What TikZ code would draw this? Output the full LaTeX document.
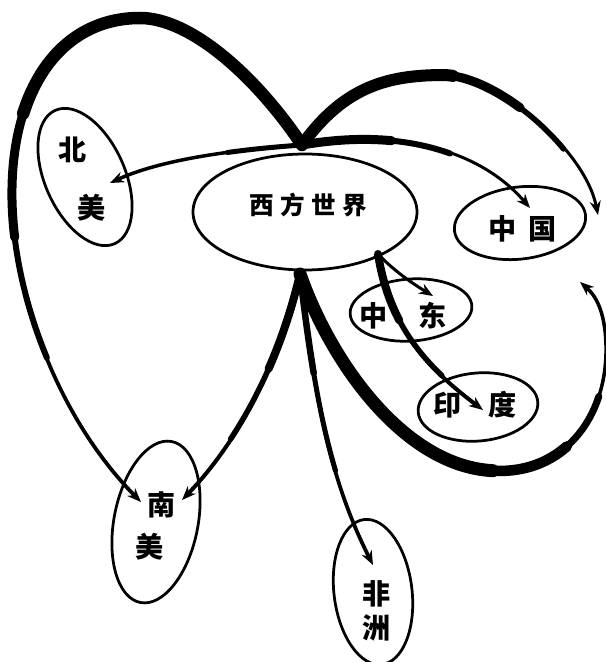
\documentclass[tikz,border=0pt]{standalone}
\usepackage{fontspec}
\newfontfamily\cjk{Noto Sans CJK SC}
\usetikzlibrary{arrows.meta,shapes.geometric}
\tikzset{
  region/.style={draw,ellipse,line width=0.55mm,inner sep=0pt},
  lbl/.style={font=\cjk\bfseries\fontsize{#1}{18pt}\selectfont,inner sep=0pt,align=center},
  lbl/.default=16pt,
  arr/.style={-{Stealth[length=2.8mm,width=2.2mm]},line width=#1},
  brush/.style 2 args={line width=#1mm,dash pattern=on #2mm off 400mm,line cap=round}
}

\begin{document}
\begin{tikzpicture}[x=0.2mm,y=-0.2mm]
  \useasboundingbox (0,0) rectangle (606,662);
  % regions
  \node[region,minimum width=44.8mm,minimum height=23.2mm] (xf) at (305,212) {};
  \node[region,minimum width=29.2mm,minimum height=16mm,rotate=-66] (bm) at (85,177) {};
  \node[region,minimum width=26.4mm,minimum height=14.4mm,rotate=7] (zg) at (520,223) {};
  \node[region,minimum width=24.4mm,minimum height=12.4mm,rotate=4] (zd) at (411,310) {};
  \node[region,minimum width=24mm,minimum height=13.6mm,rotate=5] (yd) at (478,407) {};
  \node[region,minimum width=32.8mm,minimum height=16.8mm,rotate=79] (nm) at (156,522) {};
  \node[region,minimum width=29.2mm,minimum height=15.6mm,rotate=97] (fz) at (373,592) {};
  % labels
  \node[lbl=14pt] (xf-t) at (308,205) {西\hspace{1.3mm}方\hspace{1.3mm}世\hspace{1.3mm}界};
  \node[lbl,align=left] (bm-t) at (82,179) {北\\[15pt]\hspace*{3.8mm}美};
  \node[lbl] (zg-t) at (523,229) {中\hspace{2.4mm}国};
  \node[lbl] (zd-t) at (403,316) {中\hspace{6.2mm}东};
  \node[lbl] (yd-t) at (475,405) {印\hspace{5.4mm}度};
  \node[lbl,align=left] (nm-t) at (156,526) {\hspace*{2.4mm}南\\[6pt]美};
  \node[lbl] (fz-t) at (377,611) {非\\[1pt]洲};
  % hubs and arrow ends
  \coordinate (hubN) at (302,145);
  \coordinate (hubS) at (300,274);
  \coordinate (hubE) at (378,254);
  \coordinate (bm-in) at (110,183);
  \coordinate (nm-l) at (141,502);
  \coordinate (nm-r) at (182,500);
  \coordinate (zg-in) at (530,208);
  \coordinate (zd-in) at (433,296);
  \coordinate (yd-in) at (483,410);
  \coordinate (fz-in) at (373,565);
  \coordinate (endR) at (598,215);
  \coordinate (endB) at (580,282);
  % big loop over the top to South America
  \foreach \w/\l in {2.5/75,1.8/100,1.2/125}
    \draw[brush={\w}{\l}] (hubN) .. controls (255,75) and (190,18) .. (140,18) .. controls (60,18) and (10,90) .. (12,200) .. controls (14,300) and (60,420) .. (nm-l);
  \draw[arr=0.75mm] (hubN) .. controls (255,75) and (190,18) .. (140,18) .. controls (60,18) and (10,90) .. (12,200) .. controls (14,300) and (60,420) .. (nm-l);
  % North America
  \draw[brush={1}{15}] (hubN) .. controls (230,150) and (160,160) .. (bm-in);
  \draw[arr=0.7mm] (hubN) .. controls (230,150) and (160,160) .. (bm-in);
  % big loop to the right
  \foreach \w/\l in {2.4/35,1.8/50,1.1/62}
    \draw[brush={\w}{\l}] (hubN) .. controls (345,85) and (390,75) .. (445,75) .. controls (500,78) and (585,150) .. (endR);
  \draw[arr=0.6mm] (hubN) .. controls (345,85) and (390,75) .. (445,75) .. controls (500,78) and (585,150) .. (endR);
  % China
  \foreach \w/\l in {1.8/18,1.2/30}
    \draw[brush={\w}{\l}] (hubN) .. controls (400,128) and (480,150) .. (zg-in);
  \draw[arr=0.6mm] (hubN) .. controls (400,128) and (480,150) .. (zg-in);
  % loop under Middle East and India
  \foreach \w/\l in {2.6/58,2.1/74,1.4/86}
    \draw[brush={\w}{\l}] (hubS) .. controls (330,360) and (400,460) .. (485,470) .. controls (560,479) and (608,420) .. (606,345) .. controls (605,310) and (595,295) .. (endB);
  \draw[arr=0.7mm] (hubS) .. controls (330,360) and (400,460) .. (485,470) .. controls (560,479) and (608,420) .. (606,345) .. controls (605,310) and (595,295) .. (endB);
  % South America, from below
  \foreach \w/\l in {1.6/20,1.1/36}
    \draw[brush={\w}{\l}] (hubS) .. controls (280,360) and (240,440) .. (nm-r);
  \draw[arr=0.8mm] (hubS) .. controls (280,360) and (240,440) .. (nm-r);
  % Africa
  \foreach \w/\l in {1.3/20,1/40}
    \draw[brush={\w}{\l}] (hubS) .. controls (315,400) and (330,480) .. (fz-in);
  \draw[arr=0.75mm] (hubS) .. controls (315,400) and (330,480) .. (fz-in);
  % India and Middle East
  \foreach \w/\l in {1.6/14,1.1/28}
    \draw[brush={\w}{\l}] (hubE) .. controls (390,330) and (430,370) .. (yd-in);
  \draw[arr=0.8mm] (hubE) .. controls (390,330) and (430,370) .. (yd-in);
  \draw[arr=0.6mm] (hubE) .. controls (395,272) and (415,285) .. (zd-in);
\end{tikzpicture}
\end{document}
